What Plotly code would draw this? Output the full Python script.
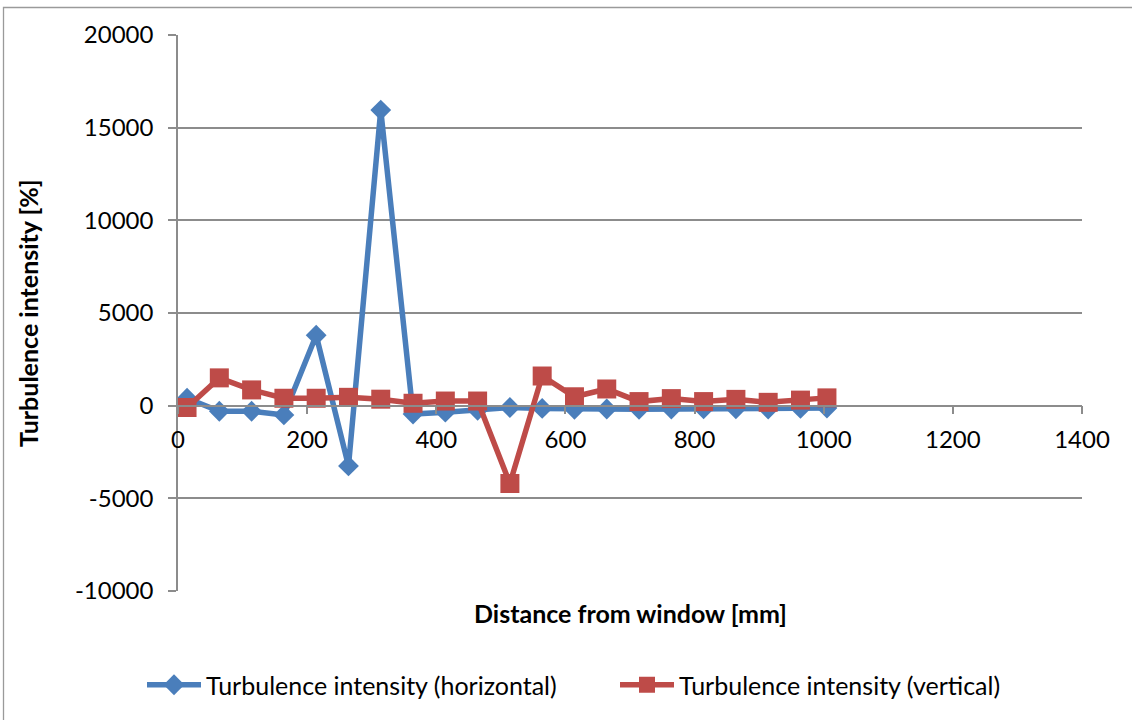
import plotly.graph_objects as go

# Measurement positions along the traverse (mm from the window)
distance_mm = [14, 64, 114, 164, 214, 264, 314, 364, 414, 464, 514,
               564, 614, 664, 714, 764, 814, 864, 914, 964, 1005]

# Turbulence intensity per position [%]
ti_horizontal = [400, -300, -300, -500, 3800, -3250, 15950, -450, -350, -250, -100,
                 -150, -200, -180, -200, -180, -170, -170, -180, -150, -130]
ti_vertical = [-100, 1500, 850, 400, 400, 450, 350, 130, 250, 250, -4200,
               1600, 480, 900, 220, 380, 220, 340, 180, 300, 420]

x_ticks = [0, 200, 400, 600, 800, 1000, 1200, 1400]
y_ticks = [-10000, -5000, 0, 5000, 10000, 15000, 20000]
y_tick_text = ["-10000", "-5000", "0", "5000", "10000", "15000", "20000"]

BLUE = "#4A7EBB"
RED = "#BE4B48"
GRID = "#8C8C8C"
FONT = "Lato"

W, H = 1132, 720
L, R, T, B = 178, 50, 35, 129
PW, PH = W - L - R, H - T - B


def py(pixel_y):
    """Paper y coordinate of a pixel row."""
    return 1 - (pixel_y - T) / PH


def px(pixel_x):
    """Paper x coordinate of a pixel column."""
    return (pixel_x - L) / PW


fig = go.Figure()
fig.add_trace(go.Scatter(
    x=distance_mm, y=ti_horizontal, mode="lines+markers",
    name="Turbulence intensity (horizontal)",
    line=dict(color=BLUE, width=5.5),
    marker=dict(symbol="diamond", size=16, color=BLUE),
))
fig.add_trace(go.Scatter(
    x=distance_mm, y=ti_vertical, mode="lines+markers",
    name="Turbulence intensity (vertical)",
    line=dict(color=RED, width=5.5),
    marker=dict(symbol="square", size=19, color=RED),
))

y_min, y_max = -10000, 20000
zero_frac = (0 - y_min) / (y_max - y_min)

fig.update_layout(
    width=W, height=H,
    margin=dict(l=L, r=R, t=T, b=B, autoexpand=False),
    paper_bgcolor="white", plot_bgcolor="white",
    font=dict(family=FONT, size=24, color="black"),
    showlegend=True,
    legend=dict(orientation="h", x=px(142), xanchor="left", y=py(685), yanchor="middle",
                font=dict(size=25), itemwidth=54, entrywidth=404,
                bgcolor="rgba(0,0,0,0)"),
    xaxis=dict(range=[0, 1400], tickvals=x_ticks, showgrid=False,
               showline=True, linecolor=GRID, linewidth=1.5,
               ticks="outside", ticklen=8, tickcolor=GRID, tickwidth=1.5,
               anchor="free", position=zero_frac, zeroline=False,
               ticklabelstandoff=5),
    yaxis=dict(range=[y_min, y_max], tickvals=y_ticks, ticktext=y_tick_text,
               showgrid=True, gridcolor=GRID, gridwidth=1.5,
               showline=True, linecolor=GRID, linewidth=1.5,
               ticks="outside", ticklen=8, tickcolor=GRID, tickwidth=1.5,
               zeroline=False, ticklabelstandoff=10),
    annotations=[
        dict(text="<b>Distance from window [mm]</b>", x=0.5, xref="paper",
             y=py(613), yref="paper",
             xanchor="center", yanchor="middle", showarrow=False,
             font=dict(size=25)),
        dict(text="<b>Turbulence intensity [%]</b>", textangle=-90,
             x=px(28), xref="paper", y=0.5, yref="paper",
             xanchor="center", yanchor="middle", showarrow=False,
             font=dict(size=25)),
    ],
    shapes=[
        # chart frame (top and left edges visible)
        dict(type="rect", xref="paper", yref="paper",
             x0=px(3.5), x1=px(W + 20), y0=py(H + 20), y1=py(7.5),
             line=dict(color="#9A9A9A", width=1.3), layer="below"),
    ],
)

fig.write_html("out.html")
